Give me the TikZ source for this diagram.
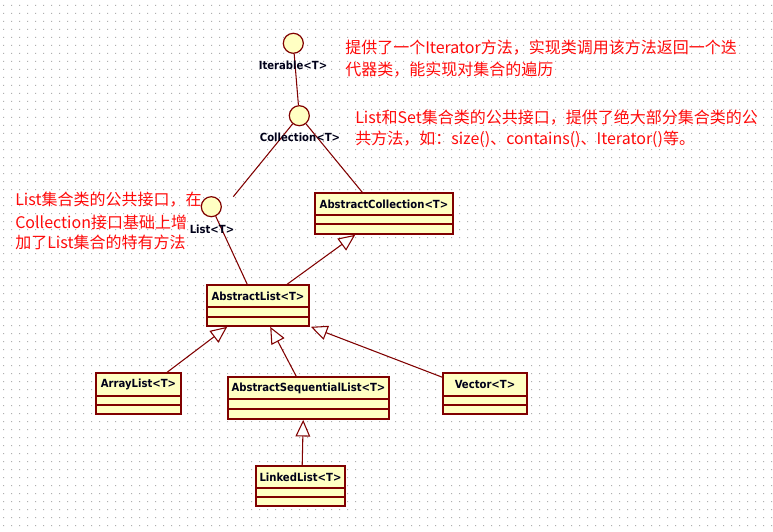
\documentclass[tikz,border=0pt]{standalone}
\usepackage{fontspec}
\usetikzlibrary{arrows.meta,fit}
\newfontfamily\cjk{Noto Sans CJK SC}
\newfontfamily\umlfont{DejaVu Sans Condensed}
\definecolor{dkred}{RGB}{128,0,0}
\definecolor{clsfill}{RGB}{255,255,195}
\definecolor{dotgray}{RGB}{175,175,175}
\definecolor{notered}{RGB}{255,10,10}
\tikzset{
  clsbox/.style={draw=dkred, fill=clsfill, line width=1.2pt, rectangle, inner sep=0pt},
  clsline/.style={draw=dkred, line width=1.2pt},
  clstext/.style={font=\umlfont\bfseries\fontsize{8.4}{10}\selectfont, inner sep=0pt, text=black!90!blue},
  iface/.style={circle, draw=dkred, fill=clsfill, line width=0.9pt, minimum size=15pt, inner sep=0pt},
  assoc/.style={draw=dkred, line width=0.8pt},
  gen/.style={draw=dkred, line width=0.8pt, -{Triangle[fill=white, length=12.5pt, width=11pt, line width=0.8pt]}},
  note/.style={font=\cjk\fontsize{12}{16.5}\selectfont, text=notered, inner sep=0pt, anchor=west},
}
\newcommand{\umlclass}[8]{%
  \node[clsbox, fit={(#2,#3) (#4,#5)}] (#1) {};
  \draw[clsline] (#2,#6) -- (#4,#6) (#2,#7) -- (#4,#7);
  \node[clstext] (#1-label) at ({(#2+#4)/2}, {(#3+#6)/2}) {#8};
}
\begin{document}
\begin{tikzpicture}[x=0.75pt, y=-0.75pt]
\useasboundingbox (0,0) rectangle (773,531);
\fill[white] (0,0) rectangle (773,531);
\fill[dotgray] \foreach \i in {0,...,96} { \foreach \j in {0,...,65} { (3+8*\i, 5+8*\j) rectangle ++(1,1) } };

% interfaces
\node[iface] (iterable) at (293.3,43.3) {};
\node[iface] (collection) at (299.3,115.7) {};
\node[iface] (list) at (211.3,206.7) {};

% classes
\umlclass{abscoll}{315}{193}{453}{234}{215}{224}{AbstractCollection<T>}
\umlclass{abslist}{207}{285}{309}{326}{307}{317}{AbstractList<T>}
\umlclass{arraylist}{96}{373}{181}{414}{396}{405}{ArrayList<T>}
\umlclass{asl}{228}{377}{389}{419}{399}{409}{AbstractSequentialList<T>}
\umlclass{vector}{443}{373}{527}{414}{396}{405}{Vector<T>}
\umlclass{linkedlist}{256}{466}{345}{506}{488}{497}{LinkedList<T>}

% connectors
\draw[assoc] (iterable) -- (collection);
\draw[assoc] (collection) -- ([shift={(22,-10)}]list.center);
\draw[assoc] (collection) -- ([shift={(48,0)}]abscoll.north west);
\draw[assoc] (list) -- ([shift={(41,0)}]abslist.north west);
\draw[gen] ([shift={(81,0)}]abslist.north west) -- ([shift={(41,0)}]abscoll.south west);
\draw[gen] ([shift={(72,0)}]arraylist.north west) -- ([shift={(21,0)}]abslist.south west);
\draw[gen] ([shift={(69,0)}]asl.north west) -- ([shift={(64,0)}]abslist.south west);
\draw[gen] ([shift={(0,5)}]vector.north west) -- ([shift={(1,0)}]abslist.south east);
\draw[gen] ([shift={(47,0)}]linkedlist.north west) -- ([shift={(76,0)}]asl.south west);

% interface labels
\node[clstext] (iterable-label) at (293,65) {Iterable<T>};
\node[clstext] (collection-label) at (300,137) {Collection<T>};
\node[clstext] (list-label) at (212,229) {List<T>};

% notes
\node[note] (n1a) at (345,48) {提供了一个Iterator方法，实现类调用该方法返回一个迭};
\node[note] (n1b) at (345,70) {代器类，能实现对集合的遍历};
\node[note] (n2a) at (355,118) {List和Set集合类的公共接口，提供了绝大部分集合类的公};
\node[note] (n2b) at (355,139) {共方法，如：size()、contains()、Iterator()等。};
\node[note] (n3a) at (15,200) {List集合类的公共接口，在};
\node[note] (n3b) at (15,222) {Collection接口基础上增};
\node[note] (n3c) at (15,242) {加了List集合的特有方法};
\end{tikzpicture}
\end{document}
